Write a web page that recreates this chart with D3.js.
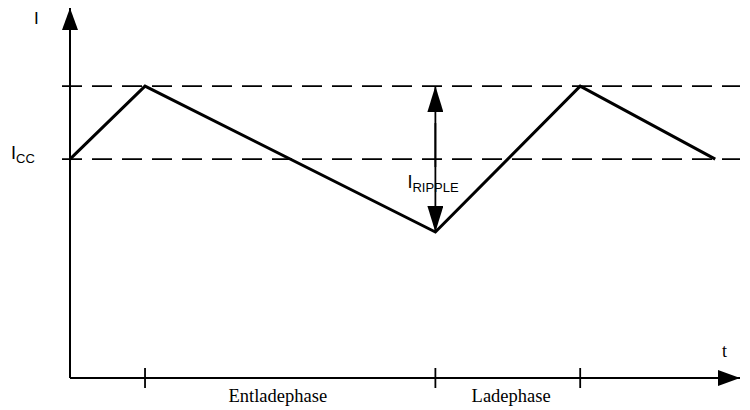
<!DOCTYPE html>
<html>
<head>
<meta charset="utf-8">
<script src="https://cdn.jsdelivr.net/npm/d3@7"></script>
<style>
  body { margin: 0; background: #fff; }
</style>
</head>
<body>
<div id="chart"></div>
<script>
// Current waveform (time in arbitrary units, current in arbitrary units)
const waveT = [0, 1, 4.87, 6.8, 8.6];
const waveI = [3, 4, 2, 4, 3];

const iCC = 3;
const iPeak = 4;
const iMin = 2;

// Phase marks on the time axis
const phaseTicks = [1, 4.87, 6.8];
const phaseLabels = [
    { name: "Entladephase", at: 2.77 },
    { name: "Ladephase", at: 5.88 }
];

const SANS = "'Liberation Sans', Arial, Helvetica, sans-serif";
const SERIF = "'Liberation Serif', 'Times New Roman', 'DejaVu Serif', serif";

const width = 750, height = 410;

const svg = d3.select("#chart")
    .append("svg")
    .attr("width", width)
    .attr("height", height);

const x = d3.scaleLinear().domain([0, 8.93]).range([70, 740]);
const y = d3.scaleLinear().domain([0, 5.07]).range([378, 8]);

// arrow heads
const defs = svg.append("defs");
defs.append("marker")
    .attr("id", "head")
    .attr("viewBox", "0 0 22 16")
    .attr("refX", 22).attr("refY", 8)
    .attr("markerWidth", 22).attr("markerHeight", 16)
    .attr("markerUnits", "userSpaceOnUse")
    .attr("orient", "auto")
    .append("path")
    .attr("d", "M0,0 L22,8 L0,16 Z")
    .attr("fill", "#000");

defs.append("marker")
    .attr("id", "headSmall")
    .attr("viewBox", "0 0 26 16")
    .attr("refX", 26).attr("refY", 8)
    .attr("markerWidth", 26).attr("markerHeight", 16)
    .attr("markerUnits", "userSpaceOnUse")
    .attr("orient", "auto")
    .append("path")
    .attr("d", "M0,0 L26,8 L0,16 Z")
    .attr("fill", "#000");

// dashed reference lines
svg.selectAll("line.ref")
    .data([iPeak, iCC])
    .enter().append("line")
    .attr("class", "ref")
    .attr("x1", x(0) - 8)
    .attr("x2", x(8.93))
    .attr("y1", d => y(d))
    .attr("y2", d => y(d))
    .attr("stroke", "#000")
    .attr("stroke-width", 1.8)
    .attr("stroke-dasharray", "20,10");

// axes
svg.append("line")
    .attr("x1", x(0)).attr("y1", y(0))
    .attr("x2", x(0)).attr("y2", y(5.07))
    .attr("stroke", "#000").attr("stroke-width", 2)
    .attr("marker-end", "url(#head)");

svg.append("line")
    .attr("x1", x(0)).attr("y1", y(0))
    .attr("x2", x(8.93)).attr("y2", y(0))
    .attr("stroke", "#000").attr("stroke-width", 2)
    .attr("marker-end", "url(#head)");

svg.selectAll("line.tick")
    .data(phaseTicks)
    .enter().append("line")
    .attr("class", "tick")
    .attr("x1", d => x(d)).attr("x2", d => x(d))
    .attr("y1", y(0) - 10).attr("y2", y(0) + 10)
    .attr("stroke", "#000").attr("stroke-width", 1.8);

// waveform
const wave = waveT.map((t, i) => ({ t: t, i: waveI[i] }));
const valueline = d3.line()
    .x(d => x(d.t))
    .y(d => y(d.i));

svg.append("path")
    .datum(wave)
    .attr("d", valueline)
    .attr("fill", "none")
    .attr("stroke", "#000")
    .attr("stroke-width", 3)
    .attr("stroke-linejoin", "miter");

// ripple double arrow
const tMin = waveT[2];
svg.append("line")
    .attr("x1", x(tMin)).attr("x2", x(tMin))
    .attr("y1", y(iCC) + 8).attr("y2", y(iPeak))
    .attr("stroke", "#000").attr("stroke-width", 1.8)
    .attr("marker-end", "url(#headSmall)");

svg.append("line")
    .attr("x1", x(tMin)).attr("x2", x(tMin))
    .attr("y1", y(iCC) - 36).attr("y2", y(iMin))
    .attr("stroke", "#000").attr("stroke-width", 1.8)
    .attr("marker-end", "url(#headSmall)");

// labels
const rip = svg.append("text")
    .attr("font-family", SANS)
    .attr("x", x(tMin) - 28)
    .attr("y", y(iCC) + 29)
    .attr("font-size", 18);
rip.append("tspan").text("I");
rip.append("tspan").attr("font-size", 13).attr("dy", 4).text("RIPPLE");

const icc = svg.append("text")
    .attr("font-family", SANS)
    .attr("x", 11)
    .attr("y", y(iCC) + 0)
    .attr("font-size", 18);
icc.append("tspan").text("I");
icc.append("tspan").attr("font-size", 13).attr("dy", 4).text("CC");

svg.append("text")
    .attr("font-family", SANS)
    .attr("x", 34).attr("y", 24)
    .attr("font-size", 17)
    .text("I");

svg.append("text")
    .attr("font-family", SERIF)
    .attr("x", 722).attr("y", 357)
    .attr("font-size", 18)
    .text("t");

svg.selectAll("text.phase")
    .data(phaseLabels)
    .enter().append("text")
    .attr("class", "phase")
    .attr("font-family", SERIF)
    .attr("x", d => x(d.at))
    .attr("y", 402)
    .attr("text-anchor", "middle")
    .attr("font-size", 18.5)
    .text(d => d.name);
</script>
</body>
</html>
